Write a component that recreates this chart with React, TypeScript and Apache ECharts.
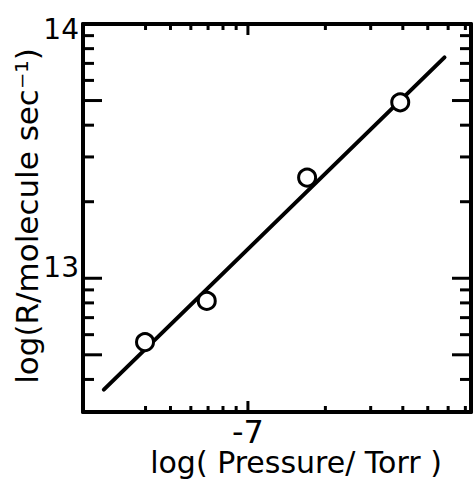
import React, { useEffect, useRef } from "react";
import * as echarts from "echarts";

// Data (log10 values)
const pressureLog = [-7.4, -7.16, -6.77, -6.408];
const rateLog = [12.749, 12.911, 13.396, 13.692];
const fitX = [-7.56, -6.236];
const fitY = [12.562, 13.869];

// Axis extents (log10 units)
const xMin = -7.641;
const xMax = -6.133;
const yMin = 12.474;
const yMax = 14;

// Tick positions (raw values, converted to log10)
const xShortTickValues = [4e-8, 5e-8, 6e-8, 7e-8, 8e-8, 9e-8, 2e-7, 3e-7, 4e-7, 5e-7, 6e-7, 7e-7];
const xLongTickValues = [1e-7];
const xLabelValues = [-7];
const yShortTickValues = [4e12, 6e12, 7e12, 8e12, 9e12, 2e13, 3e13, 4e13, 6e13, 7e13, 8e13, 9e13];
const yLongTickValues = [5e12, 1e13, 5e13];
const yLabelValues = [13, 14];

const xTitle = "log( Pressure/ Torr )";
const yTitle = "log(R/molecule sec⁻¹)";

const lg = (arr: number[]) => arr.map((v) => Math.log10(v));

const FONT = "DejaVu Sans";

export default function App() {
  const ref = useRef<HTMLDivElement>(null);
  useEffect(() => {
    if (!ref.current) return;
    const chart = echarts.init(ref.current, null, { renderer: "svg" });
    const black = "#000";
    const tick = (x1: number, y1: number, x2: number, y2: number) => ({
      type: "line",
      shape: { x1, y1, x2, y2 },
      style: { stroke: black, lineWidth: 3 },
    });

    const xTickSeries = (values: number[], len: number) => ({
      type: "custom",
      silent: true,
      z: 4,
      data: lg(values).map((v) => [v, yMin]),
      renderItem: (_p: any, api: any) => {
        const x = api.value(0);
        const b = api.coord([x, yMin]);
        const t = api.coord([x, yMax]);
        return { type: "group", children: [tick(b[0], b[1], b[0], b[1] - len), tick(t[0], t[1], t[0], t[1] + len)] };
      },
    });
    const yTickSeries = (values: number[], len: number) => ({
      type: "custom",
      silent: true,
      z: 4,
      data: lg(values).map((v) => [xMin, v]),
      renderItem: (_p: any, api: any) => {
        const y = api.value(1);
        const l = api.coord([xMin, y]);
        const r = api.coord([xMax, y]);
        return { type: "group", children: [tick(l[0], l[1], l[0] + len, l[1]), tick(r[0], r[1], r[0] - len, r[1])] };
      },
    });

    const axisLine = () => ({ show: true, onZero: false, lineStyle: { color: black, width: 4 } });

    const option: any = {
      animation: false,
      backgroundColor: "#fff",
      grid: { left: 83, right: 4, top: 24, bottom: 68, outerBoundsMode: "none" },
      xAxis: [
        { type: "value", min: xMin, max: xMax, splitLine: { show: false }, axisTick: { show: false }, axisLabel: { show: false }, axisLine: axisLine() },
        { type: "value", position: "top", min: xMin, max: xMax, splitLine: { show: false }, axisTick: { show: false }, axisLabel: { show: false }, axisLine: axisLine() },
      ],
      yAxis: [
        { type: "value", min: yMin, max: yMax, splitLine: { show: false }, axisTick: { show: false }, axisLabel: { show: false }, axisLine: axisLine() },
        { type: "value", position: "right", min: yMin, max: yMax, splitLine: { show: false }, axisTick: { show: false }, axisLabel: { show: false }, axisLine: axisLine() },
      ],
      graphic: [
        {
          type: "text",
          x: 296,
          y: 447,
          silent: true,
          style: { text: xTitle, fill: black, fontSize: 30, fontFamily: FONT, align: "center", verticalAlign: "top" },
        },
        {
          type: "text",
          x: 27,
          y: 216,
          rotation: Math.PI / 2,
          silent: true,
          style: { text: yTitle, fill: black, fontSize: 31, fontFamily: FONT, align: "center", verticalAlign: "middle" },
        },
      ],
      series: [
        xTickSeries(xShortTickValues, 6),
        xTickSeries(xLongTickValues, 11),
        yTickSeries(yShortTickValues, 11),
        yTickSeries(yLongTickValues, 19),
        {
          type: "custom",
          silent: true,
          z: 4,
          data: xLabelValues.map((v) => [v, yMin]),
          renderItem: (_p: any, api: any) => {
            const p = api.coord([api.value(0), yMin]);
            return {
              type: "text",
              x: p[0],
              y: p[1] + 4,
              style: { text: String(api.value(0)), fill: black, fontSize: 32, fontFamily: FONT, align: "center", verticalAlign: "top" },
            };
          },
        },
        {
          type: "custom",
          silent: true,
          z: 4,
          data: yLabelValues.map((v) => [xMin, v]),
          renderItem: (_p: any, api: any) => {
            const v = api.value(1);
            const p = api.coord([xMin, v]);
            const dy = v >= yMax ? 5 : -11;
            return {
              type: "text",
              x: p[0] - 4,
              y: p[1] + dy,
              style: { text: String(v), fill: black, fontSize: 28, fontFamily: FONT, align: "right", verticalAlign: "middle" },
            };
          },
        },
        {
          type: "custom",
          silent: true,
          z: 2,
          data: [[fitX[0], fitY[0], fitX[1], fitY[1]]],
          encode: { x: [0, 2], y: [1, 3] },
          renderItem: (_p: any, api: any) => {
            const a = api.coord([api.value(0), api.value(1)]);
            const b = api.coord([api.value(2), api.value(3)]);
            return {
              type: "line",
              shape: { x1: a[0], y1: a[1], x2: b[0], y2: b[1] },
              style: { stroke: black, lineWidth: 4, lineCap: "round" },
            };
          },
        },
        {
          type: "custom",
          silent: true,
          z: 3,
          data: pressureLog.map((x, i) => [x, rateLog[i]]),
          renderItem: (_p: any, api: any) => {
            const c = api.coord([api.value(0), api.value(1)]);
            return {
              type: "circle",
              shape: { cx: c[0], cy: c[1], r: 8.5 },
              style: { fill: "#fff", stroke: black, lineWidth: 3 },
            };
          },
        },
      ],
    };
    chart.setOption(option);
    return () => chart.dispose();
  }, []);
  return <div ref={ref} style={{ position: "absolute", left: 0, top: 0, width: 475, height: 480 }} />;
}
